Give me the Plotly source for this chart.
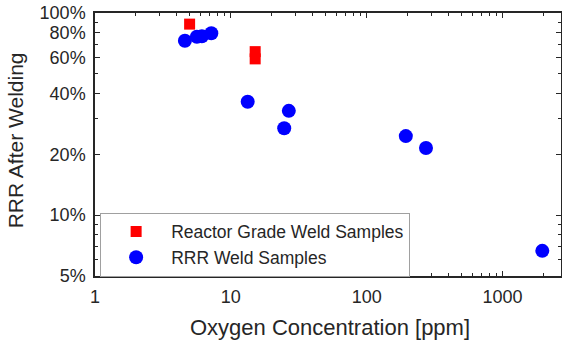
import plotly.graph_objects as go

# Data
reactor_oxygen_ppm = [4.97, 15.1, 15.1]
reactor_rrr_pct = [88.1, 64.4, 59.3]

rrr_oxygen_ppm = [4.59, 5.62, 6.12, 7.18, 13.3, 26.7, 24.7, 194, 273, 1960]
rrr_rrr_pct = [72.9, 76.3, 76.7, 79.4, 36.4, 32.8, 26.9, 24.6, 21.5, 6.66]

x_tickvals = [1, 10, 100, 1000]
x_ticktext = ["1", "10", "100", "1000"]
x_minor = [2, 3, 4, 5, 6, 7, 8, 9, 20, 30, 40, 50, 60, 70, 80, 90,
           200, 300, 400, 500, 600, 700, 800, 900, 2000]
y_tickvals = [5, 10, 20, 40, 60, 80, 100]
y_ticktext = ["5%", "10%", "20%", "40%", "60%", "80%", "100%"]
y_minor = [6, 7, 8, 9, 30, 50, 70, 90]

x_title = "Oxygen Concentration [ppm]"
y_title = "RRR After Welding"

TXT = "#262626"
FONT = "Liberation Sans, Arial, sans-serif"

fig = go.Figure()
fig.add_trace(go.Scatter(
    x=reactor_oxygen_ppm, y=reactor_rrr_pct, mode="markers",
    name="Reactor Grade Weld Samples",
    marker=dict(symbol="square", size=11, color="#ff0000", line=dict(width=0)),
))
fig.add_trace(go.Scatter(
    x=rrr_oxygen_ppm, y=rrr_rrr_pct, mode="markers",
    name="RRR Weld Samples",
    marker=dict(symbol="circle", size=14, color="#0000ff", line=dict(width=0)),
))

axis_common = dict(
    showline=True, linecolor=TXT, linewidth=1.5, mirror="ticks",
    ticks="inside", ticklen=5, tickwidth=1, tickcolor=TXT,
    showgrid=False, zeroline=False, automargin=False,
    tickfont=dict(family=FONT, size=18, color=TXT),
    ticklabelstandoff=4,
)

fig.update_xaxes(
    type="log", range=[0, 3.43],
    tickmode="array", tickvals=x_tickvals, ticktext=x_ticktext,
    minor=dict(tickmode="array", tickvals=x_minor, ticks="inside",
               ticklen=3, tickcolor=TXT, showgrid=False),
    **axis_common,
)
fig.update_yaxes(
    type="log", range=[0.69897, 2],
    tickmode="array", tickvals=y_tickvals, ticktext=y_ticktext,
    minor=dict(tickmode="array", tickvals=y_minor, ticks="inside",
               ticklen=3, tickcolor=TXT, showgrid=False),
    **axis_common,
)

fig.add_annotation(
    text=x_title, xref="paper", yref="paper", x=0.505, y=-0.194,
    xanchor="center", yanchor="middle", showarrow=False,
    font=dict(family=FONT, size=22, color=TXT),
)
fig.add_annotation(
    text=y_title, xref="paper", yref="paper", x=-0.17, y=0.515,
    xanchor="center", yanchor="middle", showarrow=False, textangle=-90,
    font=dict(family=FONT, size=21, color=TXT),
)

fig.update_layout(
    width=562, height=340,
    margin=dict(l=95, r=1, t=13, b=64),
    paper_bgcolor="white", plot_bgcolor="white",
    showlegend=True,
    legend=dict(
        x=0.011, y=0.241, xanchor="left", yanchor="top",
        bgcolor="white", bordercolor="#a0a0a0", borderwidth=1,
        font=dict(family=FONT, size=17.5, color=TXT),
        itemwidth=60, tracegroupgap=0,
    ),
    font=dict(family=FONT, color=TXT),
)

fig.write_html(
    "out.html",
    config={"displayModeBar": False},
    post_script="document.body.style.margin='0px';",
)
